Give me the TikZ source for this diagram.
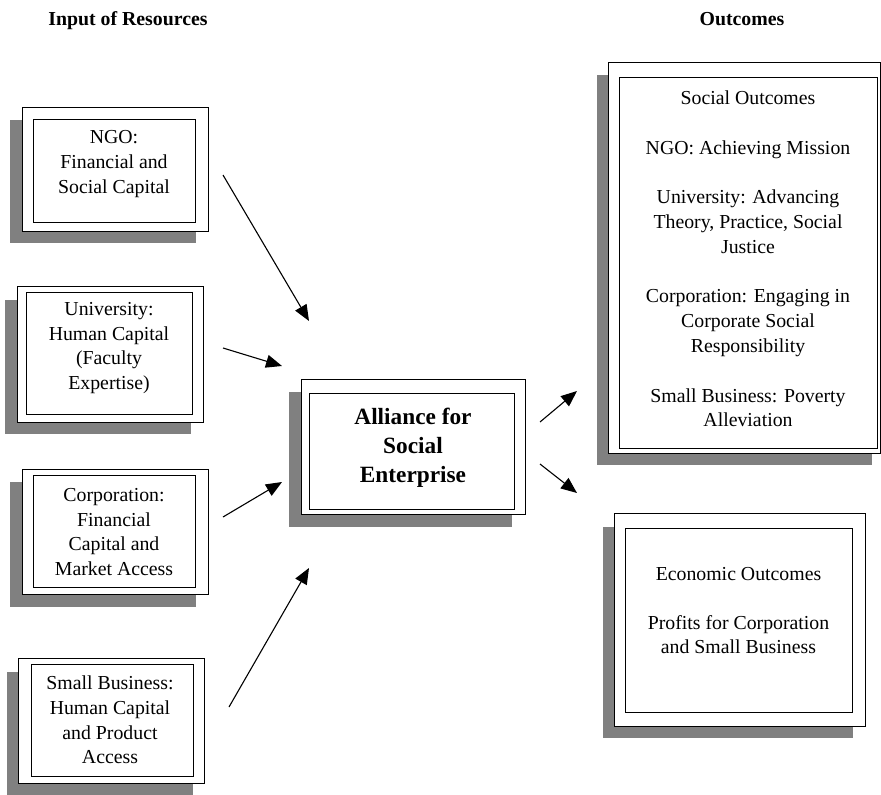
\documentclass[tikz,border=0pt]{standalone}
\usepackage{fontspec}
\setmainfont{Liberation Serif}
\usetikzlibrary{arrows.meta}

\begin{document}
\begin{tikzpicture}[x=1pt,y=-1pt,
	boxshadow/.style={fill=gray},
	outerbox/.style={draw=black,fill=white,line width=1pt},
	innerbox/.style={draw=black,line width=0.9pt},
	boxtext/.style={align=center,font=\fontsize{19.8}{24.6}\selectfont},
	headtext/.style={anchor=base,font=\bfseries\fontsize{19.8}{24.6}\selectfont},
	flow/.style={line width=1.1pt,-{Triangle[length=16pt,width=13pt]}}]
	\useasboundingbox (0,0) rectangle (881,795);

	\node[headtext] (inhead) at (128,25) {Input of Resources};
	\node[headtext] (outhead) at (742,25) {Outcomes};

	% NGO
	\fill[boxshadow] (10,120) rectangle (196,243);
	\draw[outerbox] (22,107) rectangle (208,231);
	\draw[innerbox] (33,119) rectangle (195,222);
	\node[boxtext] (ngo) at (114,164) {NGO:\\Financial and\\Social Capital};

	% University
	\fill[boxshadow] (5,300) rectangle (191,434);
	\draw[outerbox] (17,286) rectangle (203,422);
	\draw[innerbox] (26,292) rectangle (192,414);
	\node[boxtext] (univ) at (109,348) {University:\\Human Capital\\(Faculty\\Expertise)};

	% Corporation
	\fill[boxshadow] (10,482) rectangle (196,607);
	\draw[outerbox] (22,469) rectangle (208,594);
	\draw[innerbox] (33,475) rectangle (195,587);
	\node[boxtext] (corp) at (114,532) {Corporation:\\Financial\\Capital and\\Market Access};

	% Small business
	\fill[boxshadow] (7,672) rectangle (193,795);
	\draw[outerbox] (18,658) rectangle (204,783);
	\draw[innerbox] (31,664) rectangle (193,776);
	\node[boxtext] (smallbiz) at (110,720) {Small Business:\\Human Capital\\and Product\\Access};

	% Alliance
	\fill[boxshadow] (289,392) rectangle (512,527);
	\draw[outerbox] (301,379) rectangle (525,514);
	\draw[innerbox] (309,393) rectangle (514,509);
	\node[boxtext,font=\bfseries\fontsize{23.3}{29}\selectfont] (alliance) at (413,448)
		{Alliance for\\Social\\Enterprise};

	% Social outcomes
	\fill[boxshadow] (597,75) rectangle (872,465);
	\draw[outerbox] (608,62) rectangle (880,453);
	\draw[innerbox] (619,77) rectangle (877,448);
	\node[boxtext,font=\fontsize{19.8}{24.8}\selectfont] (social) at (748,259)
		{Social Outcomes\\[24.8pt]NGO: Achieving Mission\\[24.8pt]University: Advancing\\Theory, Practice, Social\\Justice\\[24.8pt]Corporation: Engaging in\\Corporate Social\\Responsibility\\[24.8pt]Small Business: Poverty\\Alleviation};

	% Economic outcomes
	\fill[boxshadow] (603,527) rectangle (853,738);
	\draw[outerbox] (614,513) rectangle (865,726);
	\draw[innerbox] (625,528) rectangle (852,712);
	\node[boxtext] (econ) at (738.5,610.5)
		{Economic Outcomes\\[24.6pt]Profits for Corporation\\and Small Business};

	% arrow ends
	\coordinate (ngo-tail) at (223,175);
	\coordinate (ngo-tip) at (309,321);
	\coordinate (univ-tail) at (223,348);
	\coordinate (univ-tip) at (282,366);
	\coordinate (corp-tail) at (223,517);
	\coordinate (corp-tip) at (282,482);
	\coordinate (smallbiz-tail) at (229,707);
	\coordinate (smallbiz-tip) at (309,568);
	\coordinate (social-tail) at (540,422);
	\coordinate (social-tip) at (577,391);
	\coordinate (econ-tail) at (540,464);
	\coordinate (econ-tip) at (577,493);

	\draw[flow] (ngo-tail) -- (ngo-tip);
	\draw[flow] (univ-tail) -- (univ-tip);
	\draw[flow] (corp-tail) -- (corp-tip);
	\draw[flow] (smallbiz-tail) -- (smallbiz-tip);
	\draw[flow] (social-tail) -- (social-tip);
	\draw[flow] (econ-tail) -- (econ-tip);
\end{tikzpicture}
\end{document}
